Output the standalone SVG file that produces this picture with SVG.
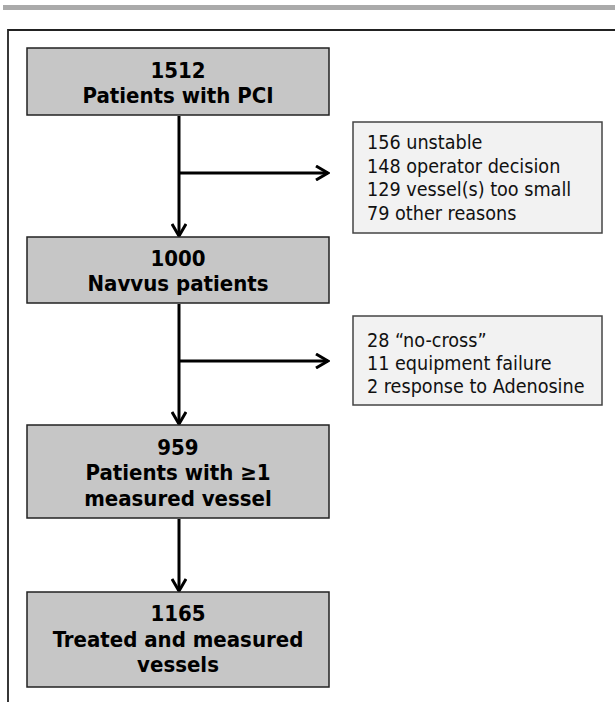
<svg xmlns="http://www.w3.org/2000/svg" width="615" height="702" viewBox="0 0 615 702">
<defs>
<style>
.main{fill:#c6c6c6;stroke:#222;stroke-width:1.5}
.side{fill:#f2f2f2;stroke:#444;stroke-width:1.5}
.bt{font-family:"DejaVu Sans Condensed","DejaVu Sans",sans-serif;font-weight:bold;font-size:22px;fill:#000;text-anchor:middle}
.nt{font-family:"DejaVu Sans Condensed","DejaVu Sans",sans-serif;font-size:19.6px;fill:#111}
.conn{stroke:#000;stroke-width:3;fill:none}
</style>
<marker id="arr" viewBox="0 0 16 16" markerWidth="16" markerHeight="16" refX="14" refY="8" orient="auto" markerUnits="userSpaceOnUse">
<path d="M2,1 L14,8 L2,15" fill="none" stroke="#000" stroke-width="3"/>
</marker>
</defs>
<rect x="3" y="5" width="612" height="5" fill="#aaa"/>
<path d="M8,702 L8,30 L615,30" fill="none" stroke="#222" stroke-width="1.8"/>
<g id="connectors">
<line class="conn" x1="179" y1="116" x2="179" y2="236" marker-end="url(#arr)"/>
<line class="conn" x1="179" y1="173" x2="328" y2="173" marker-end="url(#arr)"/>
<line class="conn" x1="179" y1="304" x2="179" y2="424" marker-end="url(#arr)"/>
<line class="conn" x1="179" y1="361" x2="328" y2="361" marker-end="url(#arr)"/>
<line class="conn" x1="179" y1="519" x2="179" y2="591" marker-end="url(#arr)"/>
</g>
<g id="n1">
<rect class="main" x="27" y="48" width="302" height="67"/>
<text class="bt" x="178" y="78">1512</text>
<text class="bt" x="178" y="103">Patients with PCI</text>
</g>
<g id="s1">
<rect class="side" x="353" y="122" width="249" height="111"/>
<text class="nt" x="367" y="149">156 unstable</text>
<text class="nt" x="367" y="173">148 operator decision</text>
<text class="nt" x="367" y="196">129 vessel(s) too small</text>
<text class="nt" x="367" y="220">79 other reasons</text>
</g>
<g id="n2">
<rect class="main" x="27" y="237" width="302" height="66"/>
<text class="bt" x="178" y="266">1000</text>
<text class="bt" x="178" y="291">Navvus patients</text>
</g>
<g id="s2">
<rect class="side" x="353" y="316" width="249" height="89"/>
<text class="nt" x="367" y="347">28 “no-cross”</text>
<text class="nt" x="367" y="370">11 equipment failure</text>
<text class="nt" x="367" y="393">2 response to Adenosine</text>
</g>
<g id="n3">
<rect class="main" x="27" y="425" width="302" height="93"/>
<text class="bt" x="178" y="455">959</text>
<text class="bt" x="178" y="480">Patients with ≥1</text>
<text class="bt" x="178" y="506">measured vessel</text>
</g>
<g id="n4">
<rect class="main" x="27" y="592" width="302" height="95"/>
<text class="bt" x="178" y="621">1165</text>
<text class="bt" x="178" y="647">Treated and measured</text>
<text class="bt" x="178" y="672">vessels</text>
</g>
</svg>
